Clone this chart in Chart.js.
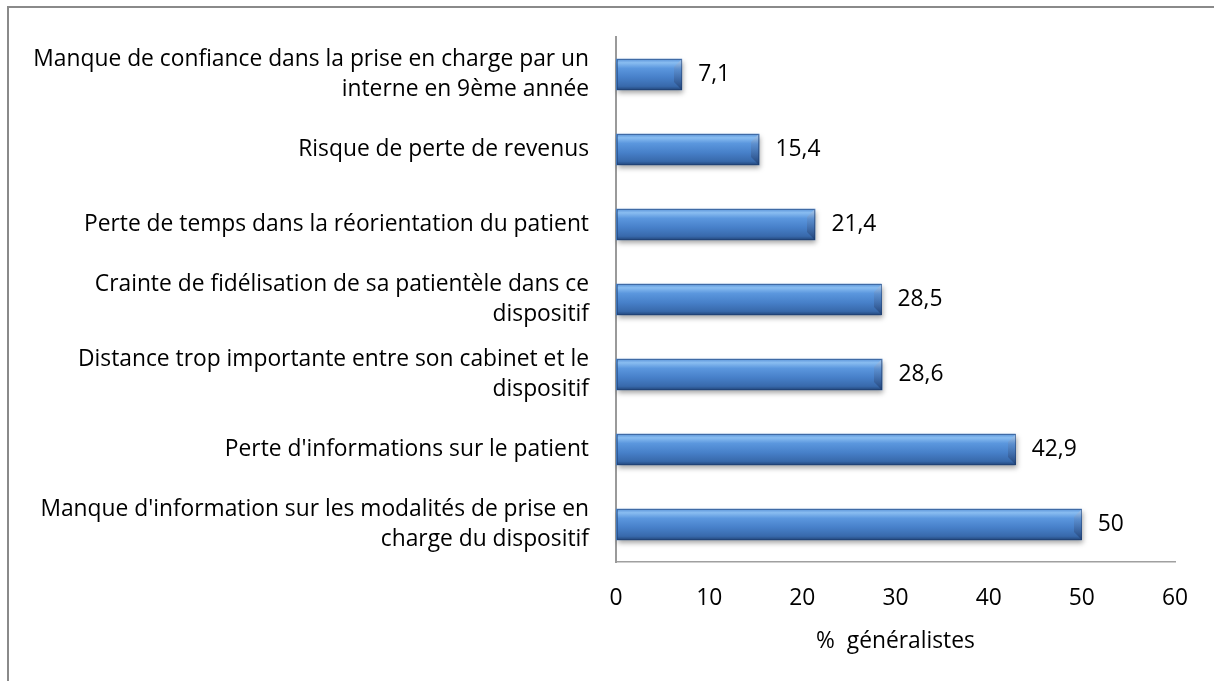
<!DOCTYPE html>
<html>
<head>
<meta charset="utf-8">
<script src="https://cdn.jsdelivr.net/npm/chart.js@4/dist/chart.umd.min.js"></script>
<style>
html,body{margin:0;padding:0;background:#fff;overflow:hidden;}
#frame{position:absolute;left:7px;top:6px;width:1300px;height:800px;border:2px solid #8a8a8a;box-sizing:border-box;}
#wrap{position:absolute;left:0;top:0;width:1214px;height:681px;}
</style>
</head>
<body>
<div id="frame"></div>
<div id="wrap"><canvas id="myChart" width="1214" height="681"></canvas></div>
<script>
// data
var categories = [
	["Manque de confiance dans la prise en charge par un", "interne en 9ème année"],
	["Risque de perte de revenus"],
	["Perte de temps dans la réorientation du patient"],
	["Crainte de fidélisation de sa patientèle dans ce", "dispositif"],
	["Distance trop importante entre son cabinet et le", "dispositif"],
	["Perte d'informations sur le patient"],
	["Manque d'information sur les modalités de prise en", "charge du dispositif"]
];
var values = [7.1, 15.4, 21.4, 28.5, 28.6, 42.9, 50];
var xTicks = [0, 10, 20, 30, 40, 50, 60];
var xTitle = "%  généralistes";

var FONT = "'Open Sans'";
var FSIZE = 22.8;

function fmt(v){
	return String(v).replace('.', ',');
}

//draws the excel-like bevelled bar over the plain one
function bevelBar(ctx, x0, x1, yt, yb){
	var h = yb - yt;
	var b = Math.min(8, h * 0.26);
	if(x1 - x0 < b * 2) b = (x1 - x0) / 2;

	ctx.save();
	ctx.shadowColor = 'rgba(0,0,0,0.35)';
	ctx.shadowBlur = 5;
	ctx.shadowOffsetY = 3;
	ctx.shadowOffsetX = 1;
	var g = ctx.createLinearGradient(0, yt, 0, yb);
	g.addColorStop(0, '#5a93d8');
	g.addColorStop(0.12, '#89bdf1');
	g.addColorStop(0.3, '#5b97de');
	g.addColorStop(0.6, '#4780c9');
	g.addColorStop(0.88, '#3869ab');
	g.addColorStop(1, '#22467a');
	ctx.fillStyle = g;
	ctx.fillRect(x0, yt, x1 - x0, h);
	ctx.restore();

	ctx.save();
	// right face of the bevel
	var gr = ctx.createLinearGradient(0, yt, 0, yb);
	gr.addColorStop(0, 'rgba(190,210,235,0.7)');
	gr.addColorStop(0.35, 'rgba(90,130,185,0.45)');
	gr.addColorStop(1, 'rgba(20,45,90,0.55)');
	ctx.fillStyle = gr;
	ctx.beginPath();
	ctx.moveTo(x1, yt); ctx.lineTo(x1, yb); ctx.lineTo(x1 - b, yb - b); ctx.lineTo(x1 - b, yt + b);
	ctx.closePath(); ctx.fill();
	ctx.strokeStyle = 'rgba(30,60,110,0.5)';
	ctx.lineWidth = 1;
	ctx.strokeRect(x0 + 0.5, yt + 0.5, x1 - x0 - 1, h - 1);
	ctx.restore();
}

var barPlugin = {
	id: 'bevel',
	afterDatasetsDraw: function(chart){
		var ctx = chart.ctx;
		var meta = chart.getDatasetMeta(0);
		meta.data.forEach(function(el, i){
			var p = el.getProps(['x', 'y', 'base', 'height'], true);
			var yt = Math.round(p.y - p.height / 2);
			var yb = Math.round(p.y + p.height / 2);
			bevelBar(ctx, Math.round(p.base) + 1, Math.round(p.x), yt, yb);

			ctx.save();
			ctx.fillStyle = '#000';
			ctx.font = FSIZE + 'px ' + FONT;
			ctx.textBaseline = 'middle';
			ctx.textAlign = 'left';
			ctx.fillText(fmt(values[i]), p.x + 16, p.y);
			ctx.restore();
		});
	}
};

var ctx = document.getElementById("myChart");
var myChart = new Chart(ctx, {
	type: 'bar',
	data: {
		labels: categories,
		datasets: [{
			data: values,
			backgroundColor: '#4a85cd',
			borderWidth: 0,
			categoryPercentage: 1,
			barPercentage: 0.42
		}]
	},
	plugins: [barPlugin],
	options: {
		indexAxis: 'y',
		responsive: false,
		animation: false,
		devicePixelRatio: 1,
		layout: {
			padding: {left: 0, right: 39, top: 37, bottom: 0}
		},
		plugins: {
			legend: {display: false},
			tooltip: {enabled: false}
		},
		scales: {
			x: {
				min: 0,
				max: 60,
				afterBuildTicks: function(scale){
					scale.ticks = xTicks.map(function(v){ return {value: v}; });
				},
				afterFit: function(scale){
					scale.height = 119;
				},
				grid: {display: false, drawTicks: false},
				border: {display: true, color: '#a0a0a0', width: 1.5},
				ticks: {
					color: '#000',
					padding: 23,
					maxRotation: 0,
					font: {family: FONT, size: FSIZE, lineHeight: 1.2}
				},
				title: {
					display: true,
					text: xTitle,
					color: '#000',
					font: {family: FONT, size: FSIZE, lineHeight: 1.2},
					padding: {top: 4, bottom: 26}
				}
			},
			y: {
				afterFit: function(scale){
					scale.width = 616;
					scale.paddingTop = 0;
					scale.paddingBottom = 0;
				},
				grid: {display: false, drawTicks: false},
				border: {display: true, color: '#9a9a9a', width: 2},
				ticks: {
					color: '#000',
					padding: 27,
					font: {family: FONT, size: FSIZE, lineHeight: 1.32}
				}
			}
		}
	}
});
</script>
</body>
</html>
